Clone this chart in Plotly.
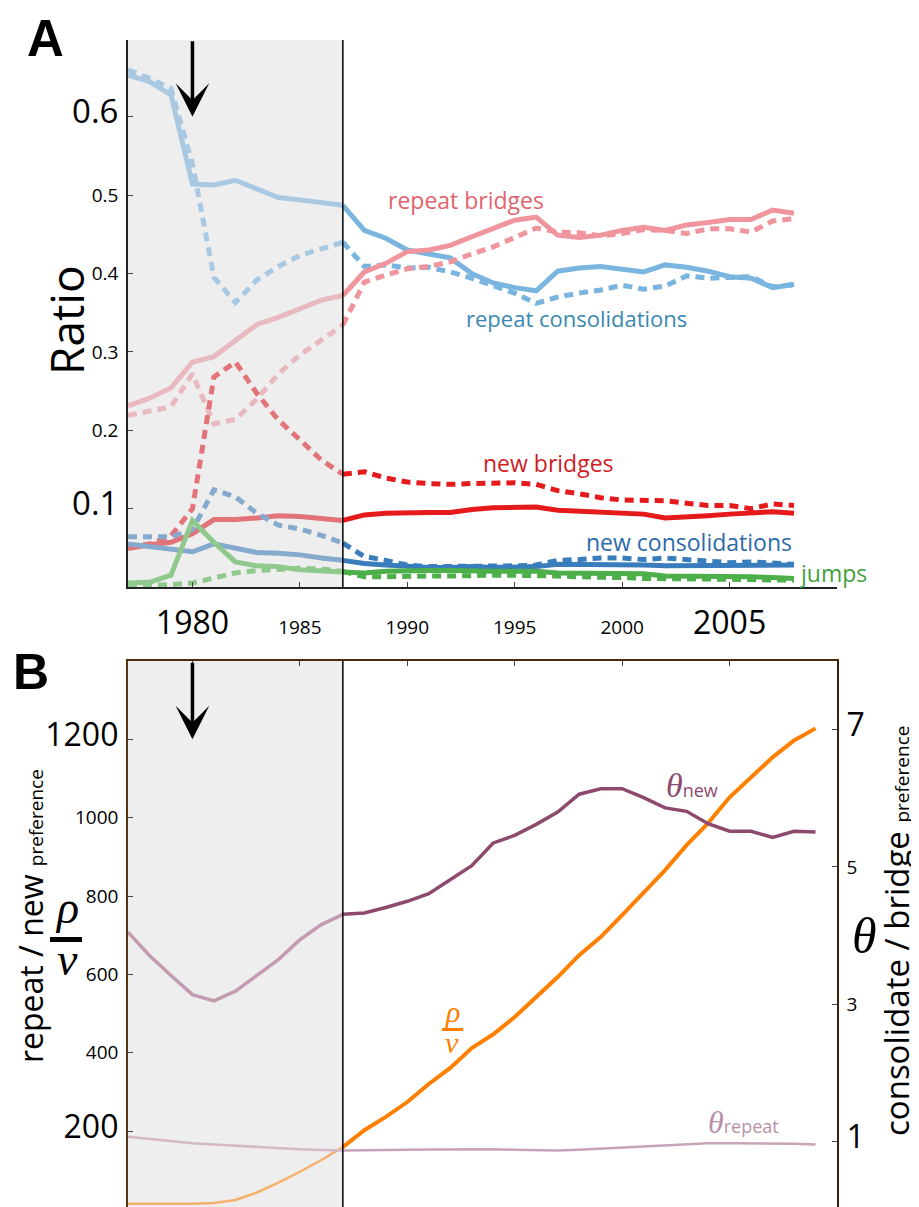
import plotly.graph_objects as go

# ---- data ----
years_a = list(range(1977, 2009))
years_b = list(range(1977, 2010))
SPLIT = 10  # index of 1987, where shading ends

repeat_cons = [0.653, 0.645, 0.628, 0.514, 0.513, 0.519, 0.508, 0.497, 0.494, 0.491, 0.487,
               0.455, 0.445, 0.430, 0.425, 0.420, 0.400, 0.388, 0.382, 0.378, 0.403, 0.407,
               0.409, 0.405, 0.402, 0.411, 0.408, 0.403, 0.396, 0.394, 0.382, 0.386]
repeat_cons_dash = [0.660, 0.649, 0.636, 0.540, 0.395, 0.363, 0.392, 0.409, 0.423, 0.432, 0.440,
                    0.409, 0.411, 0.407, 0.408, 0.402, 0.394, 0.385, 0.375, 0.362, 0.370, 0.375,
                    0.379, 0.385, 0.380, 0.384, 0.397, 0.394, 0.395, 0.396, 0.383, 0.386]
repeat_br = [0.231, 0.241, 0.254, 0.287, 0.294, 0.314, 0.335, 0.344, 0.355, 0.366, 0.372,
             0.402, 0.413, 0.428, 0.430, 0.436, 0.447, 0.457, 0.468, 0.472, 0.449, 0.446,
             0.449, 0.455, 0.459, 0.455, 0.462, 0.465, 0.469, 0.469, 0.481, 0.477]
repeat_br_dash = [0.219, 0.225, 0.230, 0.272, 0.208, 0.214, 0.240, 0.272, 0.296, 0.315, 0.334,
                  0.389, 0.398, 0.406, 0.409, 0.415, 0.425, 0.434, 0.446, 0.458, 0.453, 0.452,
                  0.448, 0.451, 0.456, 0.455, 0.451, 0.457, 0.457, 0.453, 0.467, 0.470]
new_br = [0.049, 0.054, 0.057, 0.068, 0.086, 0.086, 0.088, 0.091, 0.090, 0.087, 0.085,
          0.092, 0.094, 0.095, 0.095, 0.095, 0.099, 0.101, 0.102, 0.102, 0.098, 0.097,
          0.095, 0.094, 0.093, 0.088, 0.089, 0.091, 0.093, 0.094, 0.096, 0.094]
new_br_dash = [0.052, 0.055, 0.065, 0.100, 0.268, 0.287, 0.247, 0.213, 0.188, 0.162, 0.144,
               0.147, 0.139, 0.134, 0.132, 0.131, 0.132, 0.133, 0.133, 0.131, 0.123, 0.119,
               0.114, 0.111, 0.110, 0.110, 0.107, 0.104, 0.104, 0.100, 0.106, 0.104]
new_cons = [0.055, 0.052, 0.049, 0.045, 0.055, 0.050, 0.044, 0.043, 0.041, 0.037, 0.034,
            0.030, 0.028, 0.026, 0.025, 0.025, 0.026, 0.025, 0.025, 0.026, 0.029, 0.029,
            0.028, 0.028, 0.028, 0.027, 0.027, 0.027, 0.028, 0.028, 0.027, 0.028]
new_cons_dash = [0.064, 0.064, 0.064, 0.073, 0.124, 0.115, 0.094, 0.079, 0.074, 0.066, 0.056,
                 0.039, 0.034, 0.028, 0.026, 0.026, 0.027, 0.026, 0.027, 0.028, 0.034, 0.035,
                 0.037, 0.037, 0.035, 0.037, 0.035, 0.034, 0.031, 0.032, 0.030, 0.029]
jumps = [0.005, 0.006, 0.015, 0.085, 0.057, 0.032, 0.027, 0.026, 0.022, 0.021, 0.019,
         0.018, 0.020, 0.021, 0.021, 0.021, 0.020, 0.020, 0.020, 0.020, 0.018, 0.018,
         0.018, 0.017, 0.017, 0.014, 0.014, 0.014, 0.013, 0.013, 0.012, 0.011]
jumps_dash = [0.002, 0.002, 0.003, 0.005, 0.012, 0.018, 0.021, 0.022, 0.024, 0.023, 0.020,
              0.013, 0.013, 0.014, 0.014, 0.014, 0.015, 0.015, 0.015, 0.015, 0.014, 0.013,
              0.013, 0.012, 0.011, 0.011, 0.010, 0.010, 0.0095, 0.0095, 0.009, 0.009]

theta_new = [4.05, 3.71, 3.42, 3.14, 3.05, 3.19, 3.42, 3.65, 3.94, 4.16, 4.31,
             4.33, 4.41, 4.50, 4.61, 4.82, 5.02, 5.35, 5.46, 5.62, 5.80, 6.06,
             6.14, 6.14, 6.01, 5.86, 5.81, 5.63, 5.52, 5.52, 5.43, 5.52, 5.51]
theta_repeat = [1.07, 1.04, 1.005, 0.975, 0.956, 0.94, 0.917, 0.90, 0.888, 0.879, 0.869,
                0.87, 0.875, 0.88, 0.885, 0.89, 0.89, 0.89, 0.88, 0.87, 0.87, 0.88,
                0.895, 0.91, 0.925, 0.94, 0.96, 0.975, 0.975, 0.975, 0.975, 0.97, 0.956]
rho_nu = [14, 14, 14, 14, 16, 24, 43, 68, 96, 126, 159,
          202, 236, 274, 320, 361, 412, 447, 491, 542, 593, 649,
          695, 751, 810, 866, 930, 986, 1052, 1103, 1154, 1197, 1228]

xticks = [1980, 1985, 1990, 1995, 2000, 2005]
yticks_a = [0.1, 0.2, 0.3, 0.4, 0.5, 0.6]
yticks_left = [200, 400, 600, 800, 1000, 1200]
yticks_right = [1, 3, 5, 7]

# the page body has an 8px margin, so the figure sits 8px in from the window corner
PAGE_W, PAGE_H, OFF = 919, 1207, 8
W, H = PAGE_W - OFF, PAGE_H - OFF
SANS = 'Open Sans'
SERIF = 'Liberation Serif'


def big(s, size=32):
    return f"<span style='font-size:{size}px'>{s}</span>"


def px(x):
    return (x - OFF) / W


def py(y):
    return 1 - (y - OFF) / H


fig = go.Figure()

# panel A: (values, dashed, colour in shaded period, colour after)
series_a = [
    (repeat_cons, False, '#a9c9e2', '#79b5de'),
    (repeat_cons_dash, True, '#a9c9e2', '#79b5de'),
    (repeat_br, False, '#e9b9c0', '#f0959e'),
    (repeat_br_dash, True, '#e9b9c0', '#f0959e'),
    (new_br, False, '#e27479', '#e41a1c'),
    (new_br_dash, True, '#e27479', '#e41a1c'),
    (new_cons, False, '#85aacd', '#3a7dbd'),
    (new_cons_dash, True, '#85aacd', '#3a7dbd'),
    (jumps, False, '#90c98d', '#4daf4a'),
    (jumps_dash, True, '#90c98d', '#4daf4a'),
]
for vals, dashed, c_pre, c_post in series_a:
    dash = '9px,6px' if dashed else 'solid'
    w = 5
    fig.add_trace(go.Scatter(x=years_a[:SPLIT + 1], y=vals[:SPLIT + 1], mode='lines',
                             line=dict(color=c_pre, width=w, dash=dash), xaxis='x', yaxis='y'))
    fig.add_trace(go.Scatter(x=years_a[SPLIT:], y=vals[SPLIT:], mode='lines',
                             line=dict(color=c_post, width=w, dash=dash), xaxis='x', yaxis='y'))

# panel B
fig.add_trace(go.Scatter(x=years_b[:SPLIT + 1], y=theta_repeat[:SPLIT + 1], mode='lines',
                         line=dict(color='#d4b8c8', width=2.5), xaxis='x2', yaxis='y3'))
fig.add_trace(go.Scatter(x=years_b[SPLIT:], y=theta_repeat[SPLIT:], mode='lines',
                         line=dict(color='#c8a4ba', width=2.5), xaxis='x2', yaxis='y3'))
fig.add_trace(go.Scatter(x=years_b[:SPLIT + 1], y=theta_new[:SPLIT + 1], mode='lines',
                         line=dict(color='#c39bb1', width=3.5), xaxis='x2', yaxis='y3'))
fig.add_trace(go.Scatter(x=years_b[SPLIT:], y=theta_new[SPLIT:], mode='lines',
                         line=dict(color='#8e4a6e', width=3.5), xaxis='x2', yaxis='y3'))
fig.add_trace(go.Scatter(x=years_b[:SPLIT + 1], y=rho_nu[:SPLIT + 1], mode='lines',
                         line=dict(color='#f5b06c', width=2.5), xaxis='x2', yaxis='y2'))
fig.add_trace(go.Scatter(x=years_b[SPLIT:], y=rho_nu[SPLIT:], mode='lines',
                         line=dict(color='#ff8000', width=4), xaxis='x2', yaxis='y2'))

# shading and 1987 marker lines
for xr, yr in (('x', 'y domain'), ('x2', 'y2 domain')):
    fig.add_shape(type='rect', xref=xr, yref=yr, x0=1977, x1=1987, y0=0, y1=1,
                  fillcolor='#eeeeee', line_width=0, layer='below')
    fig.add_shape(type='line', xref=xr, yref=yr, x0=1987, x1=1987, y0=0, y1=1,
                  line=dict(color='black', width=1.5), layer='above')

# fraction bars
fig.add_shape(type='rect', xref='paper', yref='paper', x0=px(50), x1=px(82), y0=py(942), y1=py(937),
              fillcolor='black', line_width=0)
fig.add_shape(type='rect', xref='paper', yref='paper', x0=px(442), x1=px(463), y0=py(1031), y1=py(1028),
              fillcolor='#ff8000', line_width=0)

xdom = [px(128), px(837)]
axis_common = dict(showgrid=False, zeroline=False, ticks='inside', ticklen=5, tickwidth=1,
                   tickcolor='#444', tickfont=dict(family=SANS, size=19, color='black'))

fig.update_layout(
    width=W, height=H, margin=dict(l=0, r=0, t=0, b=0),
    paper_bgcolor='white', plot_bgcolor='white', showlegend=False,
    font=dict(family=SANS, color='black'),
    xaxis=dict(domain=xdom, range=[1977, 2010], anchor='y', showline=True, linecolor='#222',
               linewidth=2, tickvals=xticks,
               ticktext=[big(str(v)) if v in (1980, 2005) else str(v) for v in xticks],
               ticklabelstandoff=22, **axis_common),
    yaxis=dict(domain=[py(587), py(40)], range=[0, 0.698], anchor='x', showline=True,
               linecolor='#222', linewidth=1.5, tickvals=yticks_a,
               ticktext=[big(str(v), 33) if v in (0.1, 0.6) else str(v) for v in yticks_a],
               ticklabelstandoff=4, **axis_common),
    xaxis2=dict(domain=xdom, range=[1977, 2010], anchor='y2', side='top', showline=True,
                linecolor='#4a2c0a', linewidth=1.5, tickvals=xticks, showticklabels=False,
                **axis_common),
    yaxis2=dict(domain=[0, py(661)], range=[6, 1400], anchor='x2', showline=True,
                linecolor='#5a3512', linewidth=1.5, tickvals=yticks_left,
                ticktext=[big(str(v)) if v in (200, 1200) else str(v) for v in yticks_left],
                ticklabelstandoff=4, **axis_common),
    yaxis3=dict(range=[0.047, 8], overlaying='y2', anchor='x2', side='right', showline=True,
                linecolor='#3a2208', linewidth=1.5, tickvals=yticks_right,
                ticktext=[big(str(v)) if v in (1, 7) else str(v) for v in yticks_right],
                ticklabelstandoff=4, **axis_common),
)


def label(text, x, y, size, color='black', family=SANS, angle=0, **kw):
    fig.add_annotation(text=text, x=px(x), y=py(y), xref='paper', yref='paper', showarrow=False,
                       xanchor='center', yanchor='middle', textangle=angle,
                       font=dict(family=family, size=size, color=color), **kw)


# panel letters and axis titles
label('<b>A</b>', 45, 38, 51, family='Liberation Sans')
label('<b>B</b>', 31, 672, 50, family='Liberation Sans')
label('Ratio', 66, 320, 46, angle=-90)
label("repeat / new <span style='font-size:19px'>preference</span>", 30, 916, 32, angle=-90)
label("consolidate / bridge <span style='font-size:19px'>preference</span>", 896, 931, 33, angle=-90)
label('<i>ρ</i>', 67, 907, 46, family=SERIF)
label('<i>ν</i>', 67, 959, 46, family=SERIF)
label('<i>θ</i>', 864, 936, 50, family=SERIF)

# series labels, panel A
label('repeat bridges', 466, 200, 23, color='#e0646e')
label('repeat consolidations', 576, 318, 22, color='#3a88b0')
label('new bridges', 548, 463, 23, color='#d01c25')
label('new consolidations', 689, 542, 23, color='#2c6aa8')
label('jumps', 833, 573, 23, color='#44a040')

# series labels, panel B
label("<i>θ</i><span style='font-size:18px;font-family:Open Sans'>new</span>", 692, 786, 34,
      color='#8e4a6e', family=SERIF)
label("<i>θ</i><span style='font-size:18px;font-family:Open Sans'>repeat</span>", 743, 1122, 32,
      color='#b890aa', family=SERIF)
label('<i>ρ</i>', 452, 1011, 30, color='#ff8000', family=SERIF)
label('<i>ν</i>', 452, 1042, 30, color='#ff8000', family=SERIF)

# arrows at 1980
fig.add_annotation(x=1980, y=0.6, xref='x', yref='y', ax=0, ay=-77, text='', showarrow=True,
                   arrowhead=3, arrowsize=1.6, arrowwidth=3.5, arrowcolor='black')
fig.add_annotation(x=1980, y=1200, xref='x2', yref='y2', ax=0, ay=-78, text='', showarrow=True,
                   arrowhead=3, arrowsize=1.6, arrowwidth=3.5, arrowcolor='black')

fig.write_html('out.html')
